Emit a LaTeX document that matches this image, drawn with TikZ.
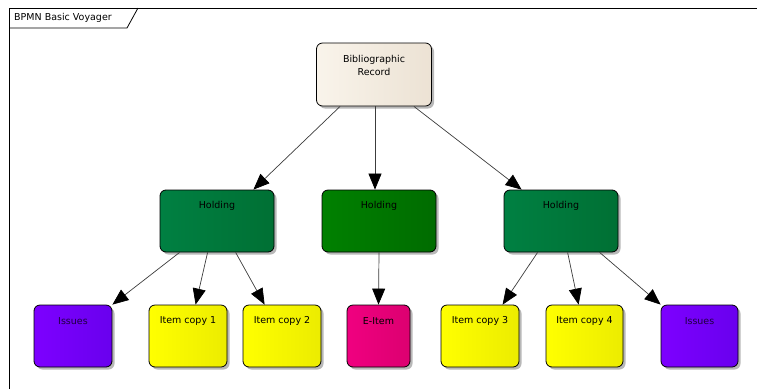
\documentclass[tikz,border=0pt]{standalone}
\usepackage{fontspec}
\setmainfont{DejaVu Sans}
\usetikzlibrary{arrows.meta,shadows,calc}

% Box colours
\definecolor{bibL}{RGB}{249,244,235}
\definecolor{bibR}{RGB}{236,226,212}
\definecolor{tealL}{RGB}{0,128,66}
\definecolor{tealR}{RGB}{0,112,52}
\definecolor{grnL}{RGB}{0,128,0}
\definecolor{grnR}{RGB}{0,108,0}
\definecolor{purL}{RGB}{125,0,255}
\definecolor{purR}{RGB}{105,0,238}
\definecolor{yelL}{RGB}{255,255,0}
\definecolor{yelR}{RGB}{236,236,0}
\definecolor{magL}{RGB}{240,0,128}
\definecolor{magR}{RGB}{220,0,112}
\definecolor{linkgray}{RGB}{60,60,60}

\tikzset{
  box/.style={draw=black, line width=0.8pt, rounded corners=6pt, inner sep=0pt,
    drop shadow={shadow xshift=2.5pt, shadow yshift=-2.5pt, fill=black!35, opacity=0.8}},
  bibbox/.style={box, left color=bibL, middle color=bibL, right color=bibR, minimum width=115pt, minimum height=63pt},
  holdteal/.style={box, left color=tealL, middle color=tealL, right color=tealR, minimum width=114pt, minimum height=62pt},
  holdgreen/.style={box, left color=grnL, middle color=grnL, right color=grnR, minimum width=114pt, minimum height=62pt},
  leaf/.style={box, minimum height=62pt, minimum width=78pt},
  purplebox/.style={leaf, left color=purL, middle color=purL, right color=purR},
  yellowbox/.style={leaf, left color=yelL, middle color=yelL, right color=yelR},
  magentabox/.style={leaf, left color=magL, middle color=magL, right color=magR, minimum width=63pt},
  txt/.style={font=\fontsize{9.5}{12.5}\selectfont, inner sep=0pt, align=center, text=black},
  link/.style={draw=linkgray, line width=0.7pt, -{Triangle[length=16pt,width=13pt,color=black]}}
}

\begin{document}
\begin{tikzpicture}[x=1pt,y=-1pt]
  \useasboundingbox (0,0) rectangle (757,389);

  % diagram frame with name tab
  \draw[line width=1pt] (9,389) -- (9,8) -- (757,8);
  \draw[line width=0.8pt] (9,28) -- (127,28) -- (138,8);
  \node[txt, anchor=west] (title) at (14,18) {BPMN Basic Voyager};

  % top level
  \node[bibbox] (bib) at (374,74.5) {};
  \node[txt, yshift=-23pt] (bibt) at (bib.north) {Bibliographic\\Record};

  % holdings
  \node[holdteal]  (h1) at (217,221) {};
  \node[holdgreen] (h2) at (379,221) {};
  \node[holdteal]  (h3) at (561,221) {};
  \node[txt, yshift=-16pt] (h1t) at (h1.north) {Holding};
  \node[txt, yshift=-16pt] (h2t) at (h2.north) {Holding};
  \node[txt, yshift=-16pt] (h3t) at (h3.north) {Holding};

  % items
  \node[purplebox]  (iss1) at (73,336) {};
  \node[yellowbox]  (ic1)  at (188,336) {};
  \node[yellowbox]  (ic2)  at (282,336) {};
  \node[magentabox] (eit)  at (378.5,336) {};
  \node[yellowbox]  (ic3)  at (480,336) {};
  \node[yellowbox, minimum width=77pt] (ic4) at (584.5,336) {};
  \node[purplebox, minimum width=77pt] (iss2) at (699.5,336) {};

  \node[txt, yshift=-16pt, text=black!75!purL] (iss1t) at (iss1.north) {Issues};
  \node[txt, yshift=-16pt] (ic1t) at (ic1.north) {Item copy 1};
  \node[txt, yshift=-16pt] (ic2t) at (ic2.north) {Item copy 2};
  \node[txt, yshift=-16pt] (eitt) at (eit.north) {E-Item};
  \node[txt, yshift=-16pt] (ic3t) at (ic3.north) {Item copy 3};
  \node[txt, yshift=-16pt] (ic4t) at (ic4.north) {Item copy 4};
  \node[txt, yshift=-16pt, text=black!75!purL] (iss2t) at (iss2.north) {Issues};

  % record to holdings
  \draw[link] ($(bib.south west)+(24,0)$) -- ($(h1.north east)+(-21,0)$);
  \draw[link] ($(bib.south)+(1,0)$) -- ($(h2.north)+(-4,0)$);
  \draw[link] ($(bib.south east)+(-18,0)$) -- ($(h3.north west)+(18,0)$);

  % holdings to items
  \draw[link] ($(h1.south west)+(20,0)$) -- (iss1.north east);
  \draw[link] ($(h1.south west)+(48,0)$) -- ($(ic1.north west)+(47,0)$);
  \draw[link] ($(h1.south west)+(76,0)$) -- ($(ic2.north west)+(22,0)$);
  \draw[link] (h2.south) -- (eit.north);
  \draw[link] ($(h3.south west)+(34,0)$) -- ($(ic3.north west)+(62,0)$);
  \draw[link] ($(h3.south west)+(64,0)$) -- ($(ic4.north west)+(33,0)$);
  \draw[link] ($(h3.south west)+(96,0)$) -- (iss2.north west);
\end{tikzpicture}
\end{document}
